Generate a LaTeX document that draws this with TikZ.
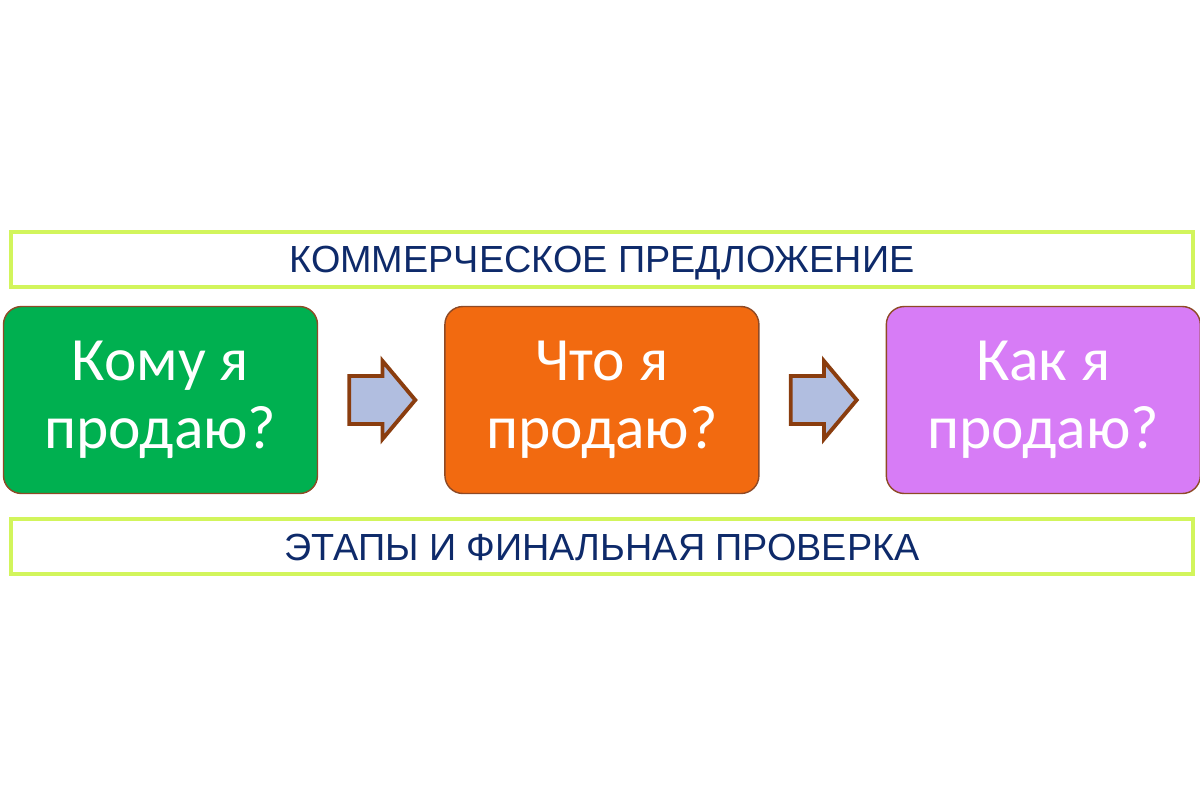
\documentclass[tikz,border=0pt]{standalone}
\usepackage{fontspec}
\setmainfont{Carlito}
\newfontfamily\barfont{Liberation Sans}
\usepackage{tikz}
\usetikzlibrary{positioning,shapes.arrows}
\definecolor{kgreen}{HTML}{00B050}
\definecolor{korange}{HTML}{F26A10}
\definecolor{kviolet}{HTML}{D77CF6}
\definecolor{kedge}{HTML}{8E4A26}
\definecolor{flowfill}{HTML}{B1BEE0}
\definecolor{flowedge}{HTML}{8A3D0F}
\definecolor{lime}{HTML}{D2F55C}
\definecolor{navy}{HTML}{0E2A6A}

\begin{document}
\begin{tikzpicture}[
  node distance=2.52cm,
  qbox/.style={draw=kedge, line width=0.8pt, rounded corners=0.36cm,
               minimum width=6.28cm, minimum height=3.74cm, text=white,
               align=center, font=\fontsize{35}{38.5}\selectfont},
  bar/.style={draw=lime, line width=2.3pt, fill=white, minimum width=23.64cm,
              minimum height=1.1cm, text=navy, text height=15.4pt, text depth=0pt,
              font=\barfont\fontsize{21.5}{25}\selectfont},
  flow/.style={single arrow, draw=flowedge, line width=2.2pt, fill=flowfill,
               minimum height=1.32cm, minimum width=1.56cm, inner xsep=0pt,
               inner ysep=0.44cm, single arrow head extend=0.3cm,
               single arrow tip angle=100, xshift=-0.18cm}]
\useasboundingbox (0,0) rectangle (24,-15.98);
\node[qbox, fill=kgreen] (who) at (3.21,-8.0) {Кому я\\продаю?};
\node[qbox, fill=korange, right=of who] (what) {Что я\\продаю?};
\node[qbox, fill=kviolet, right=of what] (how) {Как я\\продаю?};
\node[bar, above=0.34cm of what] (offer) {КОММЕРЧЕСКОЕ ПРЕДЛОЖЕНИЕ};
\node[bar, below=0.46cm of what] (check) {ЭТАПЫ И ФИНАЛЬНАЯ ПРОВЕРКА};
\path (who) -- node[flow] (a1) {} (what);
\path (what) -- node[flow] (a2) {} (how);
\end{tikzpicture}
\end{document}
